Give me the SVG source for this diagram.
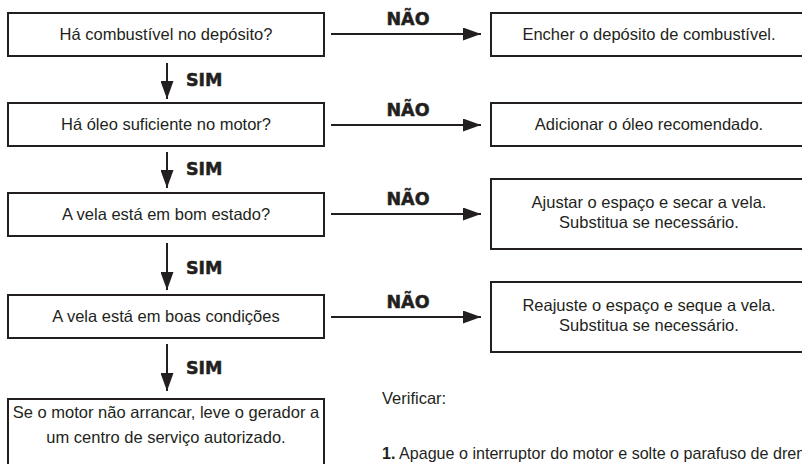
<svg xmlns="http://www.w3.org/2000/svg" width="802" height="464" viewBox="0 0 802 464">
<style>
.box{fill:#fff;stroke:#231f20;stroke-width:2}
.t{font-family:"Liberation Sans",Arial,sans-serif;font-size:16.5px;fill:#231f20;text-anchor:middle}
.tl{font-family:"Liberation Sans",Arial,sans-serif;font-size:16.5px;fill:#231f20}
.lbl{font-family:"DejaVu Sans",sans-serif;font-weight:bold;font-size:17.5px;fill:#231f20;stroke:#231f20;stroke-width:0.5}
.c{stroke:#231f20;stroke-width:2;fill:none;marker-end:url(#ah)}
</style>
<defs>
<marker id="ah" markerUnits="userSpaceOnUse" markerWidth="18" markerHeight="13" refX="18" refY="6.5" orient="auto">
<path d="M0,0 L18,6.5 L0,13 z" fill="#231f20"/>
</marker>
</defs>
<rect width="802" height="464" fill="#fff"/>
<g id="q1"><rect class="box" x="8" y="13" width="316" height="43"/><text class="t" x="166" y="40">Há combustível no depósito?</text></g>
<g id="q2"><rect class="box" x="8" y="103" width="316" height="43"/><text class="t" x="166" y="130">Há óleo suficiente no motor?</text></g>
<g id="q3"><rect class="box" x="8" y="193" width="316" height="43"/><text class="t" x="166" y="220">A vela está em bom estado?</text></g>
<g id="q4"><rect class="box" x="8" y="295" width="316" height="43"/><text class="t" x="166" y="322">A vela está em boas condições</text></g>
<g id="q5"><rect class="box" x="8" y="399" width="316" height="80"/><text class="t" x="166" y="418">Se o motor não arrancar, leve o gerador a</text><text class="t" x="166" y="443">um centro de serviço autorizado.</text></g>
<g id="a1"><rect class="box" x="491" y="13" width="320" height="43"/><text class="t" x="649" y="40">Encher o depósito de combustível.</text></g>
<g id="a2"><rect class="box" x="491" y="103" width="320" height="43"/><text class="t" x="649" y="130">Adicionar o óleo recomendado.</text></g>
<g id="a3"><rect class="box" x="491" y="179" width="320" height="70"/><text class="t" x="649" y="208">Ajustar o espaço e secar a vela.</text><text class="t" x="649" y="228">Substitua se necessário.</text></g>
<g id="a4"><rect class="box" x="491" y="282" width="320" height="70"/><text class="t" x="649" y="311">Reajuste o espaço e seque a vela.</text><text class="t" x="649" y="331">Substitua se necessário.</text></g>
<g id="connectors">
<line class="c" x1="331" y1="34" x2="481" y2="34"/>
<line class="c" x1="331" y1="125" x2="481" y2="125"/>
<line class="c" x1="331" y1="214" x2="481" y2="214"/>
<line class="c" x1="331" y1="317" x2="481" y2="317"/>
<line class="c" x1="167" y1="63" x2="167" y2="99"/>
<line class="c" x1="167" y1="152" x2="167" y2="188"/>
<line class="c" x1="167" y1="243" x2="167" y2="290"/>
<line class="c" x1="167" y1="344" x2="167" y2="391"/>
<text class="lbl" x="408" y="25" text-anchor="middle">NÃO</text>
<text class="lbl" x="408" y="116" text-anchor="middle">NÃO</text>
<text class="lbl" x="408" y="205" text-anchor="middle">NÃO</text>
<text class="lbl" x="408" y="308" text-anchor="middle">NÃO</text>
<text class="lbl" x="186" y="86">SIM</text>
<text class="lbl" x="186" y="175">SIM</text>
<text class="lbl" x="186" y="274">SIM</text>
<text class="lbl" x="186" y="374">SIM</text>
</g>
<g id="notes">
<text class="tl" x="382" y="404">Verificar:</text>
<text class="tl" x="382" y="459" style="font-size:16.1px"><tspan font-weight="bold">1.</tspan> Apague o interruptor do motor e solte o parafuso de drenagem</text>
</g>
</svg>
